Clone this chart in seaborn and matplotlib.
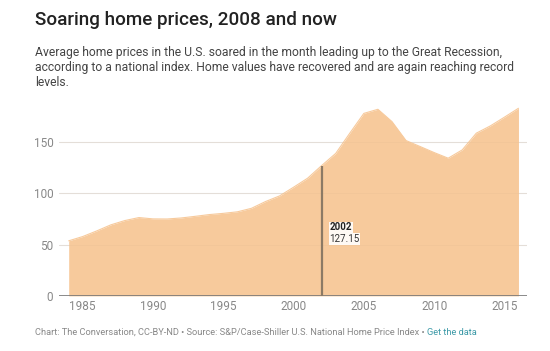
import numpy as np
import pandas as pd
import matplotlib.pyplot as plt
import seaborn as sns

years = list(range(1984, 2017))
index_values = [53.7, 57.9, 63.4, 69.3, 73.5, 76.4, 75.1, 75.0, 76.0, 77.6,
                79.3, 80.5, 82.0, 85.4, 92.0, 97.5, 106.0, 114.8, 127.15, 139.0,
                158.7, 178.0, 182.0, 170.0, 151.5, 145.7, 139.8, 134.3, 142.4, 158.7,
                165.8, 174.3, 183.0]
x_ticks = [1985, 1990, 1995, 2000, 2005, 2010, 2015]
y_ticks = [0, 50, 100, 150]
hl_year = 2002
hl_value = 127.15

df = pd.DataFrame({'year': years, 'value': index_values})

sns.set_style('white')
plt.rcParams['font.family'] = ['Roboto', 'DejaVu Sans']

fig = plt.figure(figsize=(5.5, 3.51), dpi=100)
ax = fig.add_axes([0.107, 0.157, 0.851, 0.555])

fill_col = '#f7ca9c'
ax.fill_between(df['year'], 0, df['value'], color=fill_col, lw=0, zorder=2)
sns.lineplot(x='year', y='value', data=df, color=fill_col, lw=0.8, ax=ax, zorder=2)

for y in y_ticks[1:]:
    ax.axhline(y, color='#e6e6e6', lw=0.8, zorder=1)
    ax.axhline(y, color='#d9b48c', lw=0.6, alpha=0.18, zorder=2.5)
ax.axhline(0, color='#777777', lw=1.2, zorder=3)

ax.vlines(hl_year, 0, hl_value, color='#8c7a65', lw=1.6, zorder=4)
ax.text(hl_year + 0.55, 67, str(hl_year), fontsize=7, fontweight='bold', color='#222222',
        va='center', ha='left', zorder=5,
        bbox=dict(facecolor='white', edgecolor='none', pad=0.5, alpha=0.9))
ax.text(hl_year + 0.55, 55.5, f'{hl_value:.2f}', fontsize=7, color='#333333',
        va='center', ha='left', zorder=5,
        bbox=dict(facecolor='white', edgecolor='none', pad=0.5, alpha=0.9))

ax.set_xlim(1983.3, 2016.6)
ax.set_ylim(0, 190)
ax.set_xticks(x_ticks)
ax.set_yticks(y_ticks)
ax.tick_params(axis='both', length=0, labelsize=8.5, labelcolor='#888888')
ax.tick_params(axis='x', pad=3)
ax.tick_params(axis='y', pad=4)
ax.set_xlabel('')
ax.set_ylabel('')
sns.despine(ax=ax, left=True, bottom=True)

fig.text(0.064, 0.942, 'Soaring home prices, 2008 and now', fontsize=13.6,
         fontweight='medium', color='#222222', va='center', ha='left')
fig.text(0.064, 0.87,
         'Average home prices in the U.S. soared in the month leading up to the Great Recession,\n'
         'according to a national index. Home values have recovered and are again reaching record\n'
         'levels.',
         fontsize=8.7, color='#444444', va='top', ha='left', linespacing=1.2)

foot = fig.text(0.064, 0.054,
                'Chart: The Conversation, CC-BY-ND \u2022 Source: S&P/Case-Shiller U.S. National Home Price Index \u2022 ',
                fontsize=6.65, color='#888888', va='center', ha='left')
fig.canvas.draw()
bb = foot.get_window_extent()
fig.text(bb.x1 / fig.bbox.width, 0.054, 'Get the data', fontsize=6.65, color='#3d9aa8',
         va='center', ha='left')

fig.savefig('out.png', dpi=100)
